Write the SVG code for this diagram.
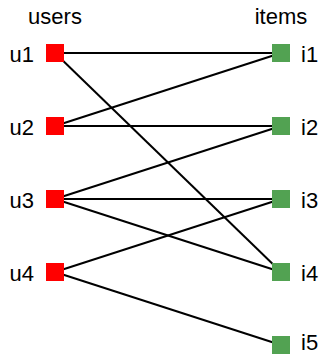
<svg xmlns="http://www.w3.org/2000/svg" width="323" height="355" viewBox="0 0 323 355">
<style>
.t{font-family:"Liberation Sans",Arial,sans-serif;font-size:22px;fill:#000}
.u{fill:#ff0000}
.i{fill:#52a252}
.e{stroke:#000;stroke-width:2;fill:none}
</style>
<rect width="323" height="355" fill="#fff"/>
<text class="t" x="55" y="24" text-anchor="middle">users</text>
<text class="t" x="281" y="24" text-anchor="middle">items</text>
<g id="edges">
<line class="e" x1="55" y1="53" x2="281" y2="53"/>
<line class="e" x1="55" y1="53" x2="281" y2="272"/>
<line class="e" x1="55" y1="126" x2="281" y2="53"/>
<line class="e" x1="55" y1="126" x2="281" y2="126"/>
<line class="e" x1="55" y1="199" x2="281" y2="126"/>
<line class="e" x1="55" y1="199" x2="281" y2="199"/>
<line class="e" x1="55" y1="199" x2="281" y2="272"/>
<line class="e" x1="55" y1="272" x2="281" y2="199"/>
<line class="e" x1="55" y1="272" x2="281" y2="345"/>
</g>
<g id="u1"><rect class="u" x="46" y="44" width="18" height="18"/><text class="t" x="34" y="62" text-anchor="end">u1</text></g>
<g id="u2"><rect class="u" x="46" y="117" width="18" height="18"/><text class="t" x="34" y="135" text-anchor="end">u2</text></g>
<g id="u3"><rect class="u" x="46" y="190" width="18" height="18"/><text class="t" x="34" y="208" text-anchor="end">u3</text></g>
<g id="u4"><rect class="u" x="46" y="263" width="18" height="18"/><text class="t" x="34" y="281" text-anchor="end">u4</text></g>
<g id="i1"><rect class="i" x="272" y="44" width="18" height="18"/><text class="t" x="301" y="62">i1</text></g>
<g id="i2"><rect class="i" x="272" y="117" width="18" height="18"/><text class="t" x="301" y="135">i2</text></g>
<g id="i3"><rect class="i" x="272" y="190" width="18" height="18"/><text class="t" x="301" y="208">i3</text></g>
<g id="i4"><rect class="i" x="272" y="263" width="18" height="18"/><text class="t" x="301" y="281">i4</text></g>
<g id="i5"><rect class="i" x="272" y="336" width="18" height="18"/><text class="t" x="301" y="350">i5</text></g>
</svg>
